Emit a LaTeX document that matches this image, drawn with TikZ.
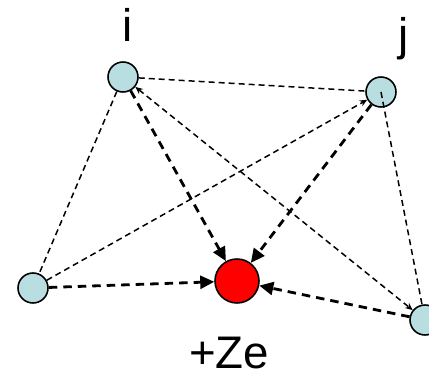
\documentclass[tikz,border=0pt]{standalone}
\usepackage{fontspec}
\setmainfont{Liberation Sans}
\usetikzlibrary{arrows.meta}
\definecolor{eblue}{RGB}{184,222,226}
\definecolor{nred}{RGB}{255,0,0}

\begin{document}
\begin{tikzpicture}[
  x=0.02cm, y=-0.02cm,
  electron/.style={circle, draw, line width=0.9pt, fill=eblue, minimum size=0.6cm, inner sep=0pt},
  nucleus/.style={circle, draw, line width=0.9pt, fill=nred, minimum size=0.88cm, inner sep=0pt},
  lbl/.style={anchor=base, font=\fontsize{26}{31}\selectfont, inner sep=0pt},
  pair/.style={line width=0.85pt, dash pattern=on 0.12cm off 0.08cm},
  pull/.style={-{Triangle[length=0.28cm, width=0.26cm]}, line width=1.6pt, dash pattern=on 0.17cm off 0.12cm},
]
  \useasboundingbox (0,0) rectangle (429,378);

  \node[electron] (i) at (123,77)  {};
  \node[electron] (j) at (381,92)  {};
  \node[electron] (l) at (33,288)  {};
  \node[electron] (k) at (425,320) {};
  \node[nucleus]  (Z) at (237,281) {};

  \node[lbl] (ilab) at (128,42)  {i};
  \node[lbl] (jlab) at (404,51)  {j};
  \node[lbl] (Zlab) at (229,368) {+Ze};

  % electron-electron pairs
  \draw[pair] (i) -- (j);
  \draw[pair] (i) -- (l);
  \draw[pair, {Stealth[length=0.15cm, width=0.13cm]}-{Stealth[length=0.15cm, width=0.13cm]}] (i) -- (k);
  \draw[pair, -{Stealth[length=0.15cm, width=0.13cm]}] (l) -- (j);
  \draw[pair] (j.center) -- (k);

  % attraction to the nucleus
  \draw[pull] (i) -- (Z);
  \draw[pull] (j) -- (Z);
  \draw[pull] (l) -- (Z);
  \draw[pull] (k) -- (Z);
\end{tikzpicture}
\end{document}
